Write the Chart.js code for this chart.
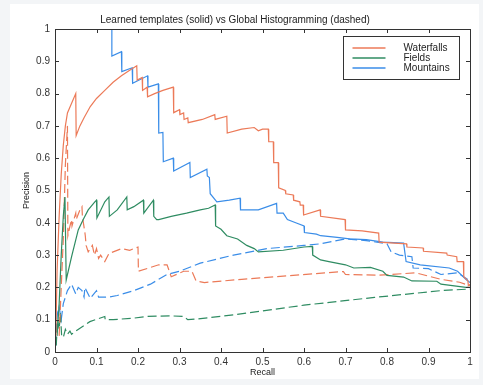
<!DOCTYPE html>
<html>
<head>
<meta charset="utf-8">
<title>Learned templates vs Global Histogramming</title>
<script src="https://cdn.jsdelivr.net/npm/chart.js"></script>
<style>
  html, body { margin: 0; padding: 0; background: #f3f5f7; }
  #wrap { width: 483px; height: 385px; }
</style>
</head>
<body>
<div id="wrap"><canvas id="prChart" width="483" height="385"></canvas></div>
<script>
// recall (x) / precision (y) pairs
const waterfallsSolidR = [0.002, 0.005, 0.01, 0.015, 0.02, 0.025, 0.03, 0.04, 0.05, 0.051, 0.06, 0.07, 0.085, 0.1, 0.12, 0.14, 0.16, 0.18, 0.197, 0.198, 0.21, 0.211, 0.222, 0.223, 0.24, 0.26, 0.285, 0.286, 0.3, 0.301, 0.31, 0.311, 0.32, 0.321, 0.355, 0.385, 0.386, 0.414, 0.415, 0.45, 0.48, 0.49, 0.5, 0.514, 0.515, 0.526, 0.527, 0.538, 0.539, 0.555, 0.556, 0.574, 0.575, 0.59, 0.591, 0.598, 0.599, 0.639, 0.64, 0.699, 0.7, 0.74, 0.78, 0.781, 0.847, 0.848, 0.887, 0.888, 0.944, 0.945, 0.968, 0.969, 0.984, 0.985, 0.995, 0.996, 1.0];
const waterfallsSolidP = [0.05, 0.25, 0.42, 0.55, 0.64, 0.70, 0.74, 0.77, 0.80, 0.67, 0.70, 0.725, 0.76, 0.785, 0.81, 0.835, 0.855, 0.872, 0.886, 0.842, 0.85, 0.81, 0.82, 0.79, 0.80, 0.81, 0.82, 0.741, 0.75, 0.735, 0.74, 0.72, 0.725, 0.71, 0.72, 0.735, 0.72, 0.73, 0.678, 0.69, 0.695, 0.685, 0.69, 0.69, 0.651, 0.651, 0.586, 0.586, 0.508, 0.50, 0.49, 0.486, 0.47, 0.465, 0.455, 0.455, 0.424, 0.44, 0.42, 0.41, 0.378, 0.375, 0.368, 0.34, 0.335, 0.325, 0.322, 0.312, 0.306, 0.30, 0.295, 0.28, 0.28, 0.233, 0.22, 0.205, 0.21];

const waterfallsDashR = [0.01, 0.02, 0.025, 0.03, 0.031, 0.036, 0.04, 0.041, 0.05, 0.051, 0.06, 0.065, 0.066, 0.072, 0.073, 0.075, 0.08, 0.09, 0.095, 0.1, 0.105, 0.11, 0.12, 0.13, 0.16, 0.18, 0.2, 0.201, 0.25, 0.27, 0.28, 0.31, 0.33, 0.34, 0.36, 0.45, 0.55, 0.65, 0.695, 0.7, 0.78, 0.87, 0.93, 0.975, 1.0];
const waterfallsDashP = [0.05, 0.35, 0.58, 0.70, 0.36, 0.39, 0.41, 0.39, 0.43, 0.41, 0.44, 0.45, 0.42, 0.37, 0.36, 0.33, 0.31, 0.33, 0.30, 0.32, 0.29, 0.30, 0.28, 0.305, 0.32, 0.315, 0.325, 0.25, 0.27, 0.27, 0.233, 0.25, 0.25, 0.22, 0.215, 0.225, 0.235, 0.245, 0.249, 0.24, 0.238, 0.245, 0.225, 0.216, 0.205];

const fieldsSolidR = [0.005, 0.01, 0.015, 0.02, 0.024, 0.027, 0.04, 0.056, 0.068, 0.08, 0.096, 0.1, 0.101, 0.12, 0.13, 0.131, 0.15, 0.173, 0.174, 0.19, 0.213, 0.214, 0.237, 0.238, 0.245, 0.25, 0.28, 0.317, 0.35, 0.37, 0.386, 0.387, 0.4, 0.414, 0.44, 0.462, 0.48, 0.49, 0.55, 0.6, 0.62, 0.621, 0.64, 0.66, 0.7, 0.72, 0.76, 0.79, 0.8, 0.84, 0.86, 0.92, 0.93, 0.99, 1.0];
const fieldsSolidP = [0.05, 0.15, 0.30, 0.42, 0.48, 0.223, 0.295, 0.378, 0.41, 0.44, 0.465, 0.47, 0.415, 0.465, 0.48, 0.42, 0.44, 0.48, 0.44, 0.45, 0.47, 0.43, 0.47, 0.42, 0.41, 0.41, 0.42, 0.43, 0.44, 0.445, 0.455, 0.39, 0.38, 0.36, 0.35, 0.33, 0.32, 0.31, 0.315, 0.325, 0.327, 0.30, 0.285, 0.28, 0.27, 0.26, 0.262, 0.25, 0.237, 0.232, 0.22, 0.219, 0.21, 0.20, 0.20];

const fieldsDashR = [0.003, 0.006, 0.01, 0.013, 0.016, 0.02, 0.025, 0.03, 0.036, 0.04, 0.05, 0.084, 0.12, 0.121, 0.14, 0.19, 0.22, 0.277, 0.31, 0.32, 0.34, 0.43, 0.6, 0.77, 0.93, 1.0];
const fieldsDashP = [0.02, 0.10, 0.07, 0.12, 0.05, 0.045, 0.07, 0.055, 0.065, 0.055, 0.065, 0.094, 0.11, 0.10, 0.10, 0.105, 0.11, 0.112, 0.11, 0.10, 0.102, 0.115, 0.145, 0.169, 0.19, 0.195];

const mountainsSolidR = [0.0, 0.137, 0.137, 0.16, 0.161, 0.186, 0.187, 0.223, 0.224, 0.249, 0.25, 0.26, 0.261, 0.285, 0.286, 0.325, 0.326, 0.366, 0.367, 0.372, 0.374, 0.39, 0.42, 0.446, 0.447, 0.49, 0.534, 0.535, 0.55, 0.56, 0.58, 0.6, 0.601, 0.63, 0.64, 0.68, 0.71, 0.75, 0.79, 0.84, 0.846, 0.88, 0.95, 0.97, 0.99, 1.0];
const mountainsSolidP = [1.0, 1.0, 0.916, 0.93, 0.868, 0.88, 0.832, 0.855, 0.82, 0.83, 0.678, 0.68, 0.589, 0.60, 0.56, 0.587, 0.54, 0.566, 0.545, 0.54, 0.49, 0.465, 0.47, 0.476, 0.44, 0.44, 0.46, 0.43, 0.43, 0.41, 0.40, 0.39, 0.37, 0.365, 0.36, 0.355, 0.35, 0.348, 0.34, 0.337, 0.28, 0.27, 0.26, 0.25, 0.225, 0.215];

const mountainsDashR = [0.002, 0.004, 0.006, 0.01, 0.015, 0.02, 0.03, 0.04, 0.05, 0.056, 0.065, 0.07, 0.072, 0.085, 0.1, 0.105, 0.13, 0.15, 0.19, 0.23, 0.27, 0.3, 0.35, 0.43, 0.51, 0.6, 0.64, 0.7, 0.75, 0.8, 0.81, 0.83, 0.86, 0.863, 0.9, 0.93, 0.97, 1.0];
const mountainsDashP = [0.02, 0.09, 0.12, 0.14, 0.10, 0.15, 0.19, 0.21, 0.18, 0.20, 0.19, 0.17, 0.20, 0.166, 0.19, 0.17, 0.17, 0.175, 0.19, 0.21, 0.24, 0.25, 0.275, 0.30, 0.32, 0.33, 0.335, 0.35, 0.345, 0.335, 0.31, 0.30, 0.295, 0.26, 0.258, 0.24, 0.245, 0.22];

const seriesNames = ["Waterfalls", "Fields", "Mountains"];
const seriesColors = ["#ec7a58", "#2f8c62", "#3a8de8"];

function pts(rs, ps) {
  return rs.map((r, i) => ({ x: r, y: ps[i] }));
}

const FONT = "'Liberation Sans', Arial, Helvetica, sans-serif";

function line(label, color, data, dashed) {
  return {
    label: label,
    data: data,
    showLine: true,
    borderColor: color,
    backgroundColor: color,
    borderWidth: 1.2,
    borderDash: dashed ? [9, 4] : [],
    pointRadius: 0,
    tension: 0,
    fill: false,
  };
}

const datasets = [
  line(seriesNames[0], seriesColors[0], pts(waterfallsSolidR, waterfallsSolidP), false),
  line(seriesNames[1], seriesColors[1], pts(fieldsSolidR, fieldsSolidP), false),
  line(seriesNames[2], seriesColors[2], pts(mountainsSolidR, mountainsSolidP), false),
  line(seriesNames[0] + " (dashed)", seriesColors[0], pts(waterfallsDashR, waterfallsDashP), true),
  line(seriesNames[1] + " (dashed)", seriesColors[1], pts(fieldsDashR, fieldsDashP), true),
  line(seriesNames[2] + " (dashed)", seriesColors[2], pts(mountainsDashR, mountainsDashP), true),
];

// fond blanc de la figure
const paperBg = {
  id: "paperBg",
  beforeDraw(chart) {
    const c = chart.ctx;
    c.save();
    c.fillStyle = "#f3f5f7";
    c.fillRect(0, 0, chart.width, chart.height);
    c.fillStyle = "#ffffff";
    c.fillRect(10, 4, chart.width - 14, chart.height - 10);
    c.restore();
  }
};

// cadre + petites graduations vers l'intérieur (style matlab)
const boxTicks = {
  id: "boxTicks",
  afterDatasetsDraw(chart) {
    const { ctx, chartArea: a, scales } = chart;
    ctx.save();
    ctx.strokeStyle = "#333";
    ctx.lineWidth = 1;
    ctx.strokeRect(Math.round(a.left) + 0.5, Math.round(a.top) + 0.5, Math.round(a.right - a.left), Math.round(a.bottom - a.top));
    const len = 4;
    ctx.beginPath();
    scales.x.ticks.forEach(t => {
      const x = Math.round(scales.x.getPixelForValue(t.value)) + 0.5;
      ctx.moveTo(x, a.bottom); ctx.lineTo(x, a.bottom - len);
      ctx.moveTo(x, a.top); ctx.lineTo(x, a.top + len);
    });
    scales.y.ticks.forEach(t => {
      const y = Math.round(scales.y.getPixelForValue(t.value)) + 0.5;
      ctx.moveTo(a.left, y); ctx.lineTo(a.left + len, y);
      ctx.moveTo(a.right, y); ctx.lineTo(a.right - len, y);
    });
    ctx.stroke();
    ctx.restore();
  }
};

// légende encadrée en haut à droite
const boxLegend = {
  id: "boxLegend",
  afterDraw(chart) {
    const { ctx, chartArea: a } = chart;
    const w = 116, h = 43;
    const x0 = Math.round(a.right - 11 - w) + 0.5;
    const y0 = Math.round(a.top + 7) + 0.5;
    ctx.save();
    ctx.fillStyle = "#fff";
    ctx.fillRect(x0, y0, w, h);
    ctx.strokeStyle = "#333";
    ctx.lineWidth = 1;
    ctx.strokeRect(x0, y0, w, h);
    ctx.font = "10px " + FONT;
    ctx.textBaseline = "middle";
    seriesNames.forEach((name, i) => {
      const y = y0 + 11.5 + i * 10;
      ctx.strokeStyle = seriesColors[i];
      ctx.lineWidth = 1.5;
      ctx.beginPath();
      ctx.moveTo(x0 + 9, y);
      ctx.lineTo(x0 + 42, y);
      ctx.stroke();
      ctx.fillStyle = "#222";
      ctx.fillText(name, x0 + 60, y);
    });
    ctx.restore();
  }
};

const tickFmt = v => String(Math.round(v * 10) / 10);

new Chart(document.getElementById("prChart"), {
  type: "scatter",
  data: { datasets: datasets },
  options: {
    responsive: false,
    animation: false,
    layout: { padding: { left: 0, right: 13, top: 0, bottom: 0 } },
    plugins: {
      legend: { display: false },
      tooltip: { enabled: false },
      title: {
        display: true,
        text: "Learned templates (solid) vs Global Histogramming (dashed)",
        color: "#222",
        font: { family: FONT, size: 10, weight: "normal" },
        padding: { top: 14, bottom: 3 },
      },
    },
    scales: {
      x: {
        type: "linear", min: 0, max: 1,
        ticks: { stepSize: 0.1, padding: 4, color: "#333", font: { family: FONT, size: 10 }, callback: tickFmt, maxRotation: 0 },
        grid: { display: false, drawTicks: false },
        border: { display: false },
        title: { display: true, text: "Recall", color: "#222", font: { family: FONT, size: 9 }, padding: { top: 0, bottom: 6.6 } },
        afterFit: s => { s.height = 33; },
      },
      y: {
        type: "linear", min: 0, max: 1,
        ticks: { stepSize: 0.1, padding: 5, color: "#333", font: { family: FONT, size: 10 }, callback: tickFmt },
        grid: { display: false, drawTicks: false },
        border: { display: false },
        title: { display: true, text: "Precision", color: "#222", font: { family: FONT, size: 9 }, padding: { top: 21.6, bottom: 0 } },
        afterFit: s => { s.width = 55; },
      },
    },
  },
  plugins: [paperBg, boxTicks, boxLegend],
});
</script>
</body>
</html>
